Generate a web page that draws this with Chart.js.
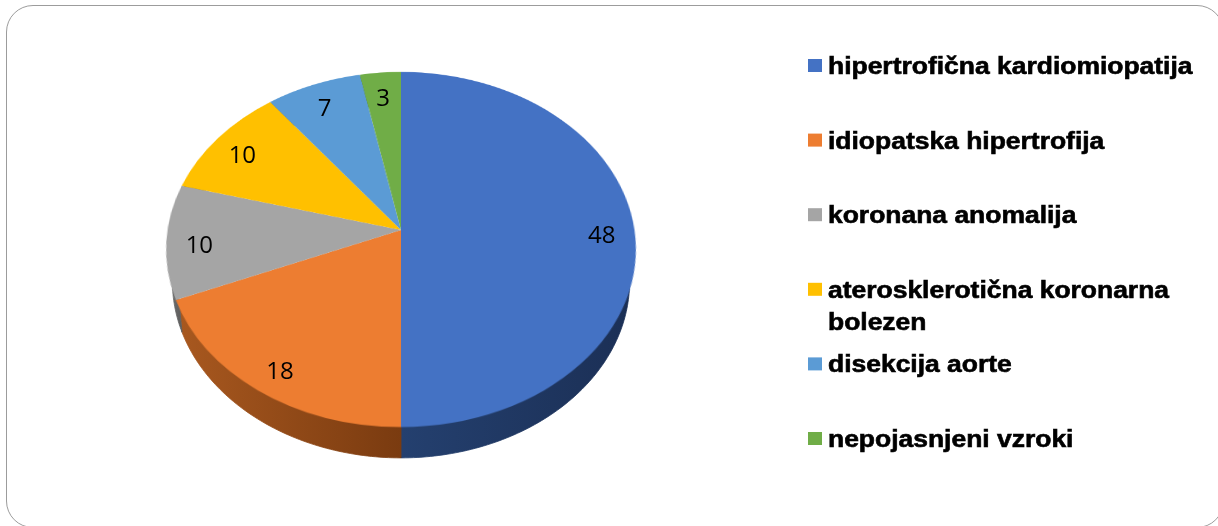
<!DOCTYPE html>
<html>
<head>
<meta charset="utf-8">
<script src="https://cdn.jsdelivr.net/npm/chart.js"></script>
<style>
  html, body { margin: 0; padding: 0; background: #fff; }
  body { width: 1218px; height: 526px; position: relative; overflow: hidden; }
  #frame {
    position: absolute; left: 6px; top: 5px; width: 1218px; height: 523px;
    box-sizing: border-box; border: 1.5px solid #9c9c9c; border-radius: 27px;
  }
  canvas.flat { position: absolute; left: 0; top: 0; }
  #pieWrap { position: absolute; width: 480px; height: 480px; transform-origin: 240px 240px; }
</style>
</head>
<body>
<div id="frame"></div>
<canvas id="sideLayer" class="flat" width="1218" height="526"></canvas>
<div id="pieWrap"><canvas id="pieChart" width="480" height="480"></canvas></div>
<canvas id="textLayer" class="flat" width="1218" height="526"></canvas>

<script>
// vzroki nenadne srčne smrti
const labels = [
    'hipertrofična kardiomiopatija',
    'idiopatska hipertrofija',
    'koronana anomalija',
    'aterosklerotična koronarna bolezen',
    'disekcija aorte',
    'nepojasnjeni vzroki'
];
const counts = [48, 18, 10, 10, 7, 3];

// barve zgornje ploskve in stranice
const faceColors = ['#4472C4', '#ED7D31', '#A5A5A5', '#FFC000', '#5B9BD5', '#70AD47'];
const sideLight = ['#24406f', '#a8581f', '#707070', '#a87f00', '#3b6796', '#4a7530'];
const sideDark = ['#1b2f55', '#7a3b10', '#555555', '#7f6000', '#2d4f74', '#375723'];

// 3D nagib torte
const PIE_R = 233.5;
const TILT_DEG = 41.3;
const TILT = TILT_DEG * Math.PI / 180;
const PERSP = 1403;
const THICK = 51;
const PIE_CX = 401, PIE_CY = 230;

const wrap = document.getElementById('pieWrap');
wrap.style.left = (PIE_CX - 240) + 'px';
wrap.style.top = (PIE_CY - 240) + 'px';
wrap.style.transform = `perspective(${PERSP}px) rotateX(${TILT_DEG}deg)`;

// točka v ravnini torte -> zaslon (w = odmik po normali)
function project(u, v, w) {
    const y = v * Math.cos(TILT) - w * Math.sin(TILT);
    const z = v * Math.sin(TILT) + w * Math.cos(TILT);
    const s = PERSP / (PERSP - z);
    return [PIE_CX + u * s, PIE_CY + y * s];
}

function drawSides(arcs) {
    const ctx = document.getElementById('sideLayer').getContext('2d');
    arcs.forEach((a, i) => {
        const steps = Math.max(8, Math.ceil((a.endAngle - a.startAngle) * 60));
        const top = [], bottom = [];
        for (let k = 0; k <= steps; k++) {
            const t = a.startAngle + (a.endAngle - a.startAngle) * k / steps;
            top.push(project((a.outerRadius - 3) * Math.cos(t), (a.outerRadius - 3) * Math.sin(t), 0));
            bottom.push(project(a.outerRadius * Math.cos(t), a.outerRadius * Math.sin(t), -THICK));
        }
        const xs = top.concat(bottom).map(p => p[0]);
        const grad = ctx.createLinearGradient(Math.min(...xs), 0, Math.max(...xs), 0);
        grad.addColorStop(0, sideLight[i]);
        grad.addColorStop(1, sideDark[i]);
        ctx.beginPath();
        top.forEach((p, k) => k ? ctx.lineTo(p[0], p[1]) : ctx.moveTo(p[0], p[1]));
        bottom.reverse().forEach(p => ctx.lineTo(p[0], p[1]));
        ctx.closePath();
        ctx.fillStyle = grad;
        ctx.fill();
        ctx.strokeStyle = grad;
        ctx.lineWidth = 0.8;
        ctx.stroke();
    });
}

function wrapText(ctx, text, maxWidth, stretch) {
    const words = text.split(' ');
    const lines = [];
    let line = '';
    words.forEach(w => {
        const test = line ? line + ' ' + w : w;
        if (line && ctx.measureText(test).width * stretch > maxWidth) {
            lines.push(line);
            line = w;
        } else {
            line = test;
        }
    });
    lines.push(line);
    return lines;
}

function drawTexts(arcs) {
    const ctx = document.getElementById('textLayer').getContext('2d');

    // vrednosti na rezinah
    ctx.fillStyle = '#000';
    ctx.font = "24px 'Open Sans'";
    ctx.textAlign = 'center';
    ctx.textBaseline = 'middle';
    arcs.forEach((a, i) => {
        const mid = (a.startAngle + a.endAngle) / 2;
        const r = a.outerRadius * 0.86;
        const p = project(r * Math.cos(mid), r * Math.sin(mid), 0);
        ctx.fillText(String(counts[i]), p[0], p[1] + 6);
    });

    // legenda
    const stretch = 1.15;
    ctx.font = "bold 23px 'Liberation Sans', Arial, sans-serif";
    ctx.textAlign = 'left';
    ctx.textBaseline = 'alphabetic';
    ctx.lineWidth = 0.6;
    ctx.strokeStyle = '#000';
    labels.forEach((label, i) => {
        const base = 74 + i * 74.6;
        ctx.fillStyle = faceColors[i];
        ctx.fillRect(808, base - 15, 14, 13);
        ctx.fillStyle = '#000';
        wrapText(ctx, label, 385, stretch).forEach((line, j) => {
            ctx.save();
            ctx.translate(828, base + j * 32);
            ctx.scale(stretch, 1);
            ctx.fillText(line, 0, 0);
            ctx.strokeText(line, 0, 0);
            ctx.restore();
        });
    });
}

const pieExtras = {
    id: 'pieExtras',
    afterDraw(chart) {
        const arcs = chart.getDatasetMeta(0).data;
        drawSides(arcs);
        drawTexts(arcs);
    }
};

new Chart(document.getElementById('pieChart'), {
    type: 'pie',
    data: {
        labels: labels,
        datasets: [{
            data: counts,
            backgroundColor: faceColors,
            borderWidth: 0,
            hoverOffset: 0
        }]
    },
    options: {
        responsive: false,
        animation: false,
        radius: PIE_R,
        events: [],
        layout: { padding: 0 },
        plugins: {
            legend: { display: false },
            tooltip: { enabled: false }
        }
    },
    plugins: [pieExtras]
});
</script>
</body>
</html>
